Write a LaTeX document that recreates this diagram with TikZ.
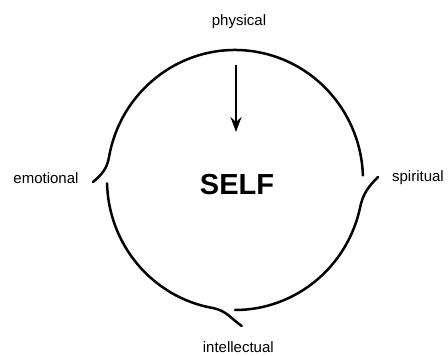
\documentclass[tikz,border=0pt]{standalone}
\usepackage{fontspec}
\setmainfont{Liberation Sans}
\usetikzlibrary{arrows.meta,positioning}

\begin{document}
\begin{tikzpicture}[
		x=1pt, y=1pt,
		every node/.style={font=\fontsize{15}{18}\selectfont, inner sep=0pt},
		aspect/.style={text=black},
		selfbox/.style={font=\fontsize{29}{33}\selectfont\bfseries},
		ring/.style={line width=2.5pt, line cap=round},
		arrow/.style={-{Stealth[length=15pt, width=11pt, inset=5pt]}, line width=1.9pt}
	]
		\useasboundingbox (-235,-176) rectangle (213,180);

		\node[aspect] (physical) at (4,158.5) {physical};
		\node[aspect] (emotional) at (-189,2) {emotional};
		\node[aspect] (spiritual) at (183,2.5) {spiritual};
		\node[aspect] (intellectual) at (3.3,-167) {intellectual};
		\node[selfbox] (self) at (2,-5) {SELF};

		\coordinate (arrowtop) at (1,115);
		\coordinate (arrowtip) at (1,48);

		% three strokes of the ring
		\draw[ring] (-142,-2) to[out=40, in=-100] (170:128 and 130)
			arc[start angle=170, end angle=2, x radius=128, y radius=130];
		\draw[ring] (143,3) to[out=225, in=78] (-12:128 and 130)
			arc[start angle=-12, end angle=-90, x radius=128, y radius=130];
		\draw[ring] (6.7,-146) to[out=145, in=-10] (-100:128 and 130)
			arc[start angle=-100, end angle=-178.5, x radius=128, y radius=130];

		\draw[arrow] (arrowtop) -- (arrowtip);
	\end{tikzpicture}
\end{document}
